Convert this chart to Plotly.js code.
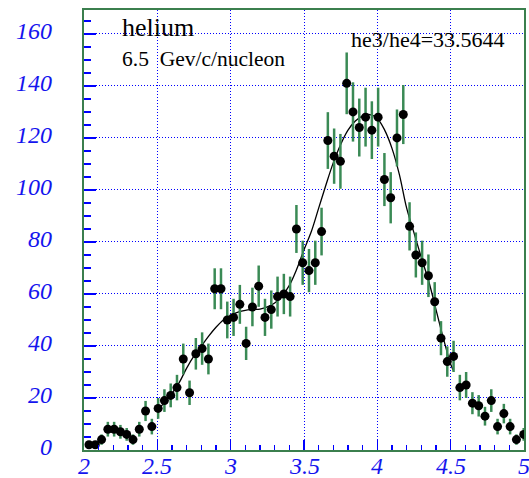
<!DOCTYPE html>
<html>
<head>
<meta charset="utf-8">
<script src="https://cdn.plot.ly/plotly-3.0.1.min.js"></script>
<style>
  html, body { margin: 0; padding: 0; background: #ffffff; }
  #chart { width: 529px; height: 478px; }
</style>
</head>
<body>
<div id="chart"></div>
<script>
// Mass bins (bin positions, Gev/c/nucleon axis)
const binX = [
  2.0340, 2.0769, 2.1197, 2.1626, 2.2054, 2.2483, 2.2911, 2.3340, 2.3769, 2.4197,
  2.4626, 2.5054, 2.5483, 2.5911, 2.6340, 2.6769, 2.7197, 2.7626, 2.8054, 2.8483,
  2.8911, 2.9340, 2.9769, 3.0197, 3.0626, 3.1054, 3.1483, 3.1911, 3.2340, 3.2769,
  3.3197, 3.3626, 3.4054, 3.4483, 3.4911, 3.5340, 3.5769, 3.6197, 3.6626, 3.7054,
  3.7483, 3.7911, 3.8340, 3.8769, 3.9197, 3.9626, 4.0054, 4.0483, 4.0911, 4.1340,
  4.1769, 4.2197, 4.2626, 4.3054, 4.3483, 4.3911, 4.4340, 4.4769, 4.5197, 4.5626,
  4.6054, 4.6483, 4.6911, 4.7340, 4.7769, 4.8197, 4.8626, 4.9054, 4.9483, 4.9980
];

// Counts per bin
const counts = [
  2, 2, 4, 8, 8, 7, 6, 4, 8, 15,
  9, 16, 19, 21, 24, 35, 22, 37, 39, 35,
  62, 62, 50, 51, 56, 41, 55, 63, 51, 54,
  59, 60, 59, 85, 72, 69, 72, 84, 119, 113,
  111, 141, 130, 124, 128, 123, 128, 104, 97, 120,
  129, 86, 75, 72, 67, 57, 43, 34, 36, 24,
  25, 18, 17, 13, 19, 9, 14, 9, 4, 6
];

// Statistical errors per bin
const errors = [
  1.41, 1.41, 2.00, 2.83, 2.83, 2.65, 2.45, 2.00, 2.83, 3.87,
  3.00, 4.00, 4.36, 4.58, 4.90, 5.92, 4.69, 6.08, 6.24, 5.92,
  7.87, 7.87, 7.07, 7.14, 7.48, 6.40, 7.42, 7.94, 7.14, 7.35,
  7.68, 7.75, 7.68, 9.22, 8.49, 8.31, 8.49, 9.17, 10.91, 10.63,
  10.54, 11.87, 11.40, 11.14, 11.31, 11.09, 11.31, 10.20, 9.85, 10.95,
  11.36, 9.27, 8.66, 8.49, 8.19, 7.55, 6.56, 5.83, 6.00, 4.90,
  5.00, 4.24, 4.12, 3.61, 4.36, 3.00, 3.74, 3.00, 2.00, 2.45
];

// Fitted he3 + he4 curve
const fitX = [
  2.50, 2.55, 2.60, 2.65, 2.70, 2.75, 2.80, 2.85, 2.90, 2.95,
  3.00, 3.05, 3.10, 3.15, 3.20, 3.25, 3.30, 3.35, 3.40, 3.45,
  3.50, 3.55, 3.60, 3.65, 3.70, 3.75, 3.80, 3.85, 3.90, 3.95,
  4.00, 4.05, 4.10, 4.15, 4.20, 4.25, 4.30, 4.35, 4.40, 4.45,
  4.50, 4.52
];
const fitY = [
  15.4, 18.3, 21.8, 26.0, 31.5, 36.2, 40.0, 43.8, 47.2, 50.0,
  51.8, 53.0, 53.7, 54.0, 54.2, 55.0, 56.5, 59.2, 63.3, 69.5,
  77.0, 84.0, 93.0, 102.0, 110.5, 117.5, 123.0, 126.5, 128.5, 129.0,
  127.5, 123.0, 116.0, 106.0, 93.0, 83.5, 74.0, 65.0, 54.0, 43.0,
  33.0, 30.5
];

// Axis ticks
const xTickVals = [2, 2.5, 3, 3.5, 4, 4.5, 5];
const xTickText = ['2', '2.5', '3', '3.5', '4', '4.5', '5'];
const yTickVals = [0, 20, 40, 60, 80, 100, 120, 140, 160];
const yTickText = ['0', '20', '40', '60', '80', '100', '120', '140', '160'];

const frameGreen = 'rgb(59,127,78)';
const errGreen = 'rgb(58,138,85)';
const tickBlue = 'rgb(0,0,255)';
const serif = 'Liberation Serif';

function labelFont(size) {
  return { family: serif, size: size, color: 'rgb(20,20,238)', style: 'italic' };
}
function textFont(size) {
  return { family: serif, size: size, color: 'rgb(0,0,0)' };
}

const dataTrace = {
  type: 'scatter',
  mode: 'markers',
  x: binX,
  y: counts,
  error_y: { type: 'data', array: errors, visible: true, color: errGreen, thickness: 2.5, width: 0 },
  marker: { color: 'rgb(0,0,0)', size: 9, symbol: 'circle' },
  cliponaxis: true
};

const fitTrace = {
  type: 'scatter',
  mode: 'lines',
  x: fitX,
  y: fitY,
  line: { color: 'rgb(0,0,0)', width: 1.3, shape: 'spline', smoothing: 1 }
};

// Tick labels as italic serif annotations placed at the tick values
const xLabelNotes = xTickVals.map(function (v, i) {
  return { text: '<i>' + xTickText[i] + '</i>', x: v, xref: 'x', y: 0, yref: 'paper', xanchor: 'center', yanchor: 'top',
    yshift: -1, showarrow: false, font: labelFont(24) };
});
const yLabelNotes = yTickVals.map(function (v, i) {
  return { text: '<i>' + yTickText[i] + '</i>', x: -0.068, xref: 'paper', y: v, yref: 'y', xanchor: 'right', yanchor: 'middle',
    yshift: 3, showarrow: false, font: labelFont(24) };
});

const textNotes = [
  { text: 'helium', x: 2.244, y: 162.3, xref: 'x', yref: 'y', xanchor: 'left', yanchor: 'middle',
    showarrow: false, font: textFont(26) },
  { text: '6.5\u00a0\u00a0Gev/c/nucleon', x: 2.244, y: 150.2, xref: 'x', yref: 'y', xanchor: 'left', yanchor: 'middle',
    showarrow: false, font: textFont(21.5) },
  { text: 'he3/he4=33.5644', x: 3.806, y: 158.0, xref: 'x', yref: 'y', xanchor: 'left', yanchor: 'middle',
    showarrow: false, font: textFont(22) }
];

const layout = {
  width: 529,
  height: 478,
  margin: { l: 84, r: 5, t: 10, b: 28, pad: 0 },
  paper_bgcolor: '#ffffff',
  plot_bgcolor: '#ffffff',
  showlegend: false,
  xaxis: {
    range: [2, 5],
    tickmode: 'array',
    tickvals: xTickVals,
    showticklabels: false,
    ticks: 'inside',
    ticklen: 10,
    tickwidth: 1.5,
    tickcolor: tickBlue,
    minor: { dtick: 0.1, ticks: 'inside', ticklen: 5, tickwidth: 1.5, tickcolor: tickBlue, showgrid: false },
    showgrid: true,
    gridcolor: tickBlue,
    gridwidth: 1,
    griddash: '1px,2px',
    showline: true,
    mirror: true,
    linecolor: frameGreen,
    linewidth: 2,
    zeroline: false
  },
  yaxis: {
    range: [0, 169.2],
    tickmode: 'array',
    tickvals: yTickVals,
    showticklabels: false,
    ticks: 'inside',
    ticklen: 12,
    tickwidth: 1.5,
    tickcolor: tickBlue,
    minor: { dtick: 5, ticks: 'inside', ticklen: 7, tickwidth: 1.5, tickcolor: tickBlue, showgrid: false },
    showgrid: true,
    gridcolor: tickBlue,
    gridwidth: 1,
    griddash: '1px,2px',
    showline: true,
    mirror: true,
    linecolor: frameGreen,
    linewidth: 2,
    zeroline: false
  },
  annotations: textNotes.concat(xLabelNotes, yLabelNotes)
};

const config = { staticPlot: true, displayModeBar: false };
Plotly.newPlot('chart', [fitTrace, dataTrace], layout, config);

// Redraw once the italic serif face is available so the axis labels pick it up
if (document.fonts && document.fonts.load) {
  document.fonts.load('italic 24px "Liberation Serif"').then(function () {
    Plotly.react('chart', [fitTrace, dataTrace], layout, config);
  }).catch(function () {});
}
</script>
</body>
</html>
